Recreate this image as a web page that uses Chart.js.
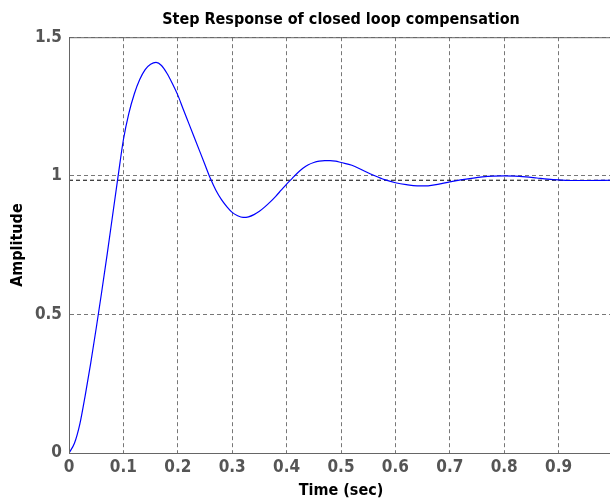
<!DOCTYPE html>
<html>
<head>
<meta charset="utf-8">
<script src="https://cdn.jsdelivr.net/npm/chart.js@4/dist/chart.umd.min.js"></script>
<style>
  html, body { margin: 0; padding: 0; background: #fff; overflow: hidden; }
  #wrap { width: 610px; height: 500px; overflow: hidden; }
  #wrap div { width: 617px; height: 500px; }
</style>
</head>
<body>
<div id="wrap"><div><canvas id="step"></canvas></div></div>
<script>
// step response
const timeSec = [0, 0.01, 0.02, 0.03, 0.04, 0.05, 0.06, 0.07, 0.08, 0.09,
  0.1, 0.11, 0.12, 0.13, 0.14, 0.15, 0.16, 0.17, 0.18, 0.19,
  0.2, 0.21, 0.22, 0.23, 0.24, 0.25, 0.26, 0.27, 0.28, 0.29,
  0.3, 0.31, 0.32, 0.33, 0.34, 0.35, 0.36, 0.37, 0.38, 0.39,
  0.4, 0.41, 0.42, 0.43, 0.44, 0.45, 0.46, 0.47, 0.48, 0.49,
  0.5, 0.52, 0.54, 0.56, 0.58, 0.6, 0.62, 0.64, 0.66, 0.68,
  0.7, 0.72, 0.74, 0.76, 0.78, 0.8, 0.82, 0.84, 0.86, 0.88,
  0.9, 0.92, 0.95, 1.0];
const amplitude = [0, 0.035, 0.105, 0.21, 0.325, 0.45, 0.58, 0.715, 0.855, 0.995,
  1.13, 1.225, 1.295, 1.347, 1.383, 1.402, 1.409, 1.398, 1.37, 1.333,
  1.291, 1.24, 1.19, 1.14, 1.09, 1.04, 0.99, 0.948, 0.915, 0.889,
  0.868, 0.856, 0.85, 0.852, 0.86, 0.872, 0.888, 0.906, 0.926, 0.948,
  0.97, 0.99, 1.01, 1.027, 1.04, 1.048, 1.053, 1.055, 1.055, 1.053,
  1.048, 1.038, 1.02, 1.002, 0.986, 0.975, 0.968, 0.964, 0.964, 0.97,
  0.978, 0.985, 0.991, 0.996, 0.999, 1.0, 0.999, 0.996, 0.992, 0.988,
  0.985, 0.983, 0.983, 0.984];
const steadyState = 0.984;
const xTicks = [0, 0.1, 0.2, 0.3, 0.4, 0.5, 0.6, 0.7, 0.8, 0.9];
const yTicks = [0, 0.5, 1, 1.5];

const points = timeSec.map((t, i) => ({ x: t, y: amplitude[i] }));
const finalLine = [{ x: 0, y: steadyState }, { x: 1, y: steadyState }];

const font = "'DejaVu Sans Condensed', 'Liberation Sans Narrow', sans-serif";

// solid box round the axes, like matlab
const boxPlugin = {
  id: 'box',
  afterDraw(chart) {
    const a = chart.chartArea, ctx = chart.ctx;
    ctx.save();
    ctx.strokeStyle = '#666';
    ctx.lineWidth = 1;
    ctx.strokeRect(a.left + 0.5, a.top + 0.5, a.right - a.left, a.bottom - a.top);
    ctx.restore();
  }
};

new Chart(document.getElementById('step'), {
  type: 'line',
  data: {
    datasets: [
      {
        data: points,
        borderColor: '#0000ff',
        borderWidth: 1.2,
        pointRadius: 0,
        cubicInterpolationMode: 'monotone',
        fill: false
      },
      {
        data: finalLine,
        borderColor: '#000',
        borderWidth: 1,
        borderDash: [4, 3],
        pointRadius: 0,
        fill: false
      }
    ]
  },
  options: {
    responsive: true,
    maintainAspectRatio: false,
    animation: false,
    layout: { padding: 0 },
    plugins: {
      legend: { display: false },
      tooltip: { enabled: false },
      title: {
        display: true,
        fullSize: false,
        text: 'Step Response of closed loop compensation',
        color: '#000',
        font: { family: font, size: 16, weight: 'bold' },
        padding: { top: 10, bottom: 8 }
      }
    },
    scales: {
      x: {
        type: 'linear',
        min: 0,
        max: 1,
        afterFit: (s) => { s.height = 47; },
        afterBuildTicks: (s) => { s.ticks = xTicks.concat([1]).map((v) => ({ value: v })); },
        ticks: {
          color: '#555',
          font: { family: font, size: 17, weight: 'bold' },
          padding: 4,
          maxRotation: 0,
          callback: (v) => (xTicks.includes(v) ? String(v) : '')
        },
        grid: { color: '#777', drawTicks: false },
        border: { display: true, color: '#666', dash: [4, 3] },
        title: {
          display: true,
          text: 'Time (sec)',
          color: '#000',
          font: { family: font, size: 16, weight: 'bold' },
          padding: { top: 7, bottom: 0 }
        }
      },
      y: {
        min: 0,
        max: 1.5,
        afterFit: (s) => { s.width = 69; },
        afterBuildTicks: (s) => { s.ticks = yTicks.map((v) => ({ value: v })); },
        ticks: {
          color: '#555',
          font: { family: font, size: 17, weight: 'bold' },
          padding: 7,
          callback: (v) => String(v)
        },
        grid: { color: '#777', drawTicks: false },
        border: { display: true, color: '#666', dash: [4, 3] },
        title: {
          display: true,
          text: 'Amplitude',
          color: '#000',
          font: { family: font, size: 16, weight: 'bold' },
          padding: { top: 8, bottom: 0 }
        }
      }
    }
  },
  plugins: [boxPlugin]
});
</script>
</body>
</html>
